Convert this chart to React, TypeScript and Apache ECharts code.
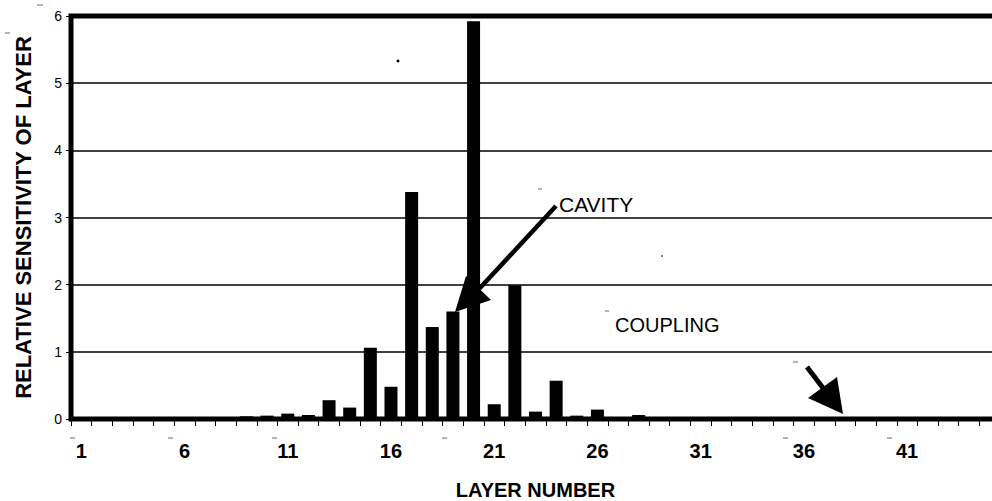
import React, { useEffect, useRef } from "react";
import * as echarts from "echarts";

const layers = [
  "1", "2", "3", "4", "5", "6", "7", "8", "9", "10",
  "11", "12", "13", "14", "15", "16", "17", "18", "19", "20",
  "21", "22", "23", "24", "25", "26", "27", "28", "29", "30",
  "31", "32", "33", "34", "35", "36", "37", "38", "39", "40",
  "41", "42", "43", "44", "45",
];

const sensitivity = [
  0, 0, 0, 0, 0, 0, 0, 0, 0.04, 0.05,
  0.08, 0.06, 0.28, 0.17, 1.06, 0.48, 3.38, 1.37, 1.6, 5.92,
  0.22, 1.99, 0.11, 0.57, 0.05, 0.14, 0.02, 0.06, 0.01, 0.01,
  0.01, 0.01, 0.01, 0, 0, 0, 0, 0, 0, 0,
  0, 0, 0, 0, 0,
];

const annotationTexts = ["CAVITY", "COUPLING"];

const FONT = '"Liberation Sans", Arial, sans-serif';

// small scan specks seen on the original figure
const specks: number[][] = [
  [37, 5, 43, 5],
  [5, 33, 10, 33],
  [70, 438, 75, 438],
  [168, 438, 173, 438],
  [272, 438, 277, 438],
  [442, 438, 447, 438],
  [783, 438, 788, 438],
  [887, 438, 892, 438],
  [538, 189, 542, 189],
  [605, 311, 609, 311],
  [793, 362, 798, 362],
];

export default function App() {
  const ref = useRef<HTMLDivElement>(null);

  useEffect(() => {
    if (!ref.current) return;
    const chart = echarts.init(ref.current, undefined, { renderer: "svg" });

    const graphics: any[] = [
      {
        type: "text",
        x: 559,
        y: 204,
        z: 10,
        style: {
          text: annotationTexts[0],
          font: `21px ${FONT}`,
          fill: "#000",
          align: "left",
          verticalAlign: "middle",
        },
      },
      {
        type: "text",
        x: 615,
        y: 325,
        z: 10,
        style: {
          text: annotationTexts[1],
          font: `20px ${FONT}`,
          fill: "#000",
          align: "left",
          verticalAlign: "middle",
        },
      },
      {
        type: "line",
        z: 10,
        shape: { x1: 556, y1: 206, x2: 479, y2: 289 },
        style: { stroke: "#000", lineWidth: 4.5 },
      },
      {
        type: "polygon",
        z: 10,
        shape: { points: [[466, 276], [455, 312], [491, 300]] },
        style: { fill: "#000" },
      },
      {
        type: "line",
        z: 10,
        shape: { x1: 807, y1: 367, x2: 823, y2: 388 },
        style: { stroke: "#000", lineWidth: 5 },
      },
      {
        type: "polygon",
        z: 10,
        shape: { points: [[837, 377], [808, 398], [843, 414]] },
        style: { fill: "#000" },
      },
      {
        type: "circle",
        z: 10,
        shape: { cx: 398, cy: 61, r: 1.5 },
        style: { fill: "#000" },
      },
      {
        type: "circle",
        z: 10,
        shape: { cx: 662, cy: 256, r: 0.8 },
        style: { fill: "#333" },
      },
      ...specks.map((s) => ({
        type: "line",
        z: 10,
        shape: { x1: s[0], y1: s[1], x2: s[2], y2: s[3] },
        style: { stroke: "#666", lineWidth: 1 },
      })),
    ];

    chart.setOption({
      animation: false,
      backgroundColor: "#fff",
      grid: {
        left: 71,
        top: 16,
        width: 929,
        height: 403,
        containLabel: false,
        outerBoundsMode: "none",
        show: true,
        borderColor: "#000",
        borderWidth: 5,
        backgroundColor: "transparent",
      },
      xAxis: {
        type: "category",
        data: layers,
        boundaryGap: true,
        axisLine: { show: false },
        axisTick: {
          show: true,
          interval: 0,
          length: 7,
          lineStyle: { color: "#000", width: 1 },
        },
        axisLabel: {
          interval: 4,
          margin: 22,
          fontSize: 20,
          fontWeight: "bold",
          fontFamily: FONT,
          color: "#000",
        },
        splitLine: { show: false },
        name: "LAYER NUMBER",
        nameLocation: "middle",
        nameGap: 61,
        nameTextStyle: {
          fontSize: 20,
          fontWeight: "bold",
          fontFamily: FONT,
          color: "#000",
        },
      },
      yAxis: {
        type: "value",
        min: 0,
        max: 6,
        interval: 1,
        axisLine: { show: false },
        axisTick: {
          show: true,
          length: 5,
          lineStyle: { color: "#000", width: 1 },
        },
        axisLabel: {
          margin: 9,
          fontSize: 14,
          fontFamily: FONT,
          color: "#000",
        },
        splitLine: { show: true, lineStyle: { color: "#000", width: 1.5 } },
        name: "RELATIVE SENSITIVITY OF LAYER",
        nameLocation: "middle",
        nameGap: 37,
        nameRotate: 90,
        nameTextStyle: {
          fontSize: 22,
          fontWeight: "bold",
          fontFamily: FONT,
          color: "#000",
        },
      },
      series: [
        {
          type: "bar",
          data: sensitivity,
          barWidth: "63%",
          itemStyle: { color: "#000" },
          z: 3,
        },
      ],
      graphic: graphics,
    });

    return () => chart.dispose();
  }, []);

  return (
    <div
      ref={ref}
      style={{ position: "fixed", left: 0, top: 0, width: 992, height: 501, background: "#fff" }}
    />
  );
}
